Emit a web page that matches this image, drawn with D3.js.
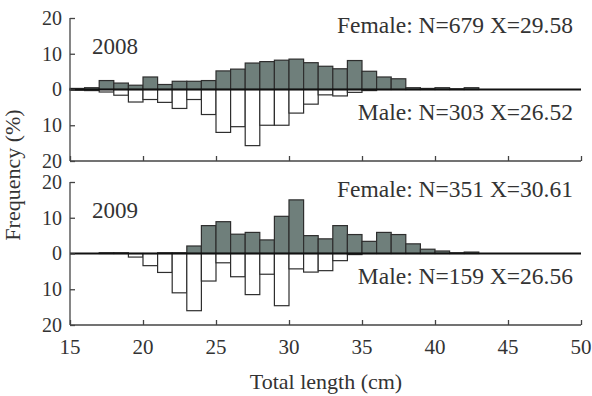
<!DOCTYPE html>
<html>
<head>
<meta charset="utf-8">
<script src="https://cdn.jsdelivr.net/npm/d3@7"></script>
<style>
  body { margin: 0; background: #fff; }
  text { font-family: "Liberation Serif", "Times New Roman", serif; fill: #333; }
</style>
</head>
<body>
<svg width="592" height="396"></svg>
<script>
// 1 cm length classes, lower bound of each bin
var bins = d3.range(15, 50);

var female2008 = [0.3, 0.5, 2.5, 1.8, 1.2, 3.5, 1.4, 2.3, 2.3, 2.5, 5.2, 5.7, 7.4, 7.8, 8.2, 8.5, 7.5, 6.5,
                  5.8, 8.1, 5.1, 3.5, 3.0, 0.5, 0.3, 0.5, 0.2, 0.5, 0, 0, 0, 0, 0, 0, 0];
var male2008   = [0.2, 0.3, 0.7, 1.6, 3.5, 2.8, 3.6, 5.3, 2.8, 7.0, 12.0, 10.4, 15.7, 10.0, 10.0, 6.6, 4.1, 1.5,
                  1.8, 0.8, 0.3, 0, 0, 0, 0, 0, 0, 0, 0, 0, 0, 0, 0, 0, 0];
var female2009 = [0, 0, 0.2, 0.2, 0, 0, 0.2, 0.2, 2.1, 7.8, 8.9, 5.4, 5.9, 3.8, 10.4, 15.0, 5.0, 4.1,
                  7.8, 5.3, 3.4, 5.9, 5.3, 2.7, 1.2, 0.7, 0.2, 0.4, 0, 0, 0, 0, 0, 0, 0];
var male2009   = [0, 0, 0, 0, 1.0, 3.4, 5.3, 11.0, 16.0, 7.7, 2.6, 6.5, 11.5, 5.8, 14.6, 4.3, 5.2, 4.8,
                  2.0, 0.3, 0, 0, 0, 0, 0, 0, 0, 0, 0, 0, 0, 0, 0, 0, 0];

var years = ["2008", "2009"];
var femaleLabels = ["Female: N=679 X=29.58", "Female: N=351 X=30.61"];
var maleLabels = ["Male: N=303 X=26.52", "Male: N=159 X=26.56"];
var xTicks = [15, 20, 25, 30, 35, 40, 45, 50];
var yTicks = [-20, -10, 0, 10, 20];

var svg = d3.select("svg");

var x = d3.scaleLinear().domain([15, 50]).range([70, 581]);

var panels = [
  {top: 18, bottom: 161, female: female2008, male: male2008},
  {top: 182, bottom: 325, female: female2009, male: male2009}
];

panels.forEach(function(p, i) {
  var y = d3.scaleLinear().domain([-20, 20]).range([p.bottom, p.top]);
  var g = svg.append("g");

  // female bars (up)
  g.selectAll("rect.f")
    .data(bins.map(function(b, j) { return {b: b, v: p.female[j]}; }).filter(function(d) { return d.v > 0; }))
    .enter().append("rect")
      .attr("class", "f")
      .attr("x", function(d) { return x(d.b); })
      .attr("width", function(d) { return x(d.b + 1) - x(d.b); })
      .attr("y", function(d) { return y(d.v); })
      .attr("height", function(d) { return y(0) - y(d.v); })
      .attr("fill", "#6f7f7b")
      .attr("stroke", "#2e2e2e")
      .attr("stroke-width", 1.2);

  // male bars (down)
  g.selectAll("rect.m")
    .data(bins.map(function(b, j) { return {b: b, v: p.male[j]}; }).filter(function(d) { return d.v > 0; }))
    .enter().append("rect")
      .attr("class", "m")
      .attr("x", function(d) { return x(d.b); })
      .attr("width", function(d) { return x(d.b + 1) - x(d.b); })
      .attr("y", y(0))
      .attr("height", function(d) { return y(-d.v) - y(0); })
      .attr("fill", "#fff")
      .attr("stroke", "#2e2e2e")
      .attr("stroke-width", 1.2);

  // zero line
  g.append("line")
    .attr("x1", x(15)).attr("x2", x(50))
    .attr("y1", y(0)).attr("y2", y(0))
    .attr("stroke", "#111")
    .attr("stroke-width", 2);

  // axes
  var yAxis = d3.axisRight(y).tickValues(yTicks).tickSize(5).tickFormat("");
  var ya = g.append("g").attr("transform", "translate(" + x(15) + ",0)").call(yAxis);
  ya.select(".domain").remove();
  ya.selectAll("line").attr("stroke", "#444").attr("stroke-width", 1.3);
  g.append("line")
    .attr("x1", x(15)).attr("x2", x(15))
    .attr("y1", p.top).attr("y2", p.bottom)
    .attr("stroke", "#444").attr("stroke-width", 1.3);

  g.selectAll("text.yl")
    .data(yTicks)
    .enter().append("text")
      .attr("class", "yl")
      .attr("x", 62)
      .attr("y", function(d) { return y(d); })
      .attr("dy", "0.34em")
      .attr("text-anchor", "end")
      .style("font-size", "20px")
      .text(function(d) { return Math.abs(d); });

  var xAxis = d3.axisTop(x).tickValues(xTicks).tickSize(5).tickFormat("");
  var xa = g.append("g").attr("transform", "translate(0," + p.bottom + ")").call(xAxis);
  xa.select(".domain").remove();
  xa.selectAll("line").attr("stroke", "#444").attr("stroke-width", 1.3);
  g.append("line")
    .attr("x1", x(15)).attr("x2", x(50))
    .attr("y1", p.bottom).attr("y2", p.bottom)
    .attr("stroke", "#444").attr("stroke-width", 1.3);

  // labels
  g.append("text")
    .attr("x", 92).attr("y", p.top + 36)
    .style("font-size", "23px")
    .text(years[i]);
  g.append("text")
    .attr("x", 573).attr("y", p.top + 15)
    .attr("text-anchor", "end")
    .style("font-size", "23.5px")
    .text(femaleLabels[i]);
  g.append("text")
    .attr("x", 573).attr("y", p.top + 102)
    .attr("text-anchor", "end")
    .style("font-size", "23.5px")
    .text(maleLabels[i]);
});

// x tick labels
svg.selectAll("text.xl")
  .data(xTicks)
  .enter().append("text")
    .attr("class", "xl")
    .attr("x", function(d) { return x(d); })
    .attr("y", 354)
    .attr("text-anchor", "middle")
    .style("font-size", "21px")
    .text(function(d) { return d; });

svg.append("text")
  .attr("x", 326).attr("y", 389)
  .attr("text-anchor", "middle")
  .style("font-size", "22px")
  .text("Total length (cm)");

svg.append("text")
  .attr("transform", "translate(20,175) rotate(-90)")
  .attr("text-anchor", "middle")
  .style("font-size", "22px")
  .text("Frequency (%)");
</script>
</body>
</html>
